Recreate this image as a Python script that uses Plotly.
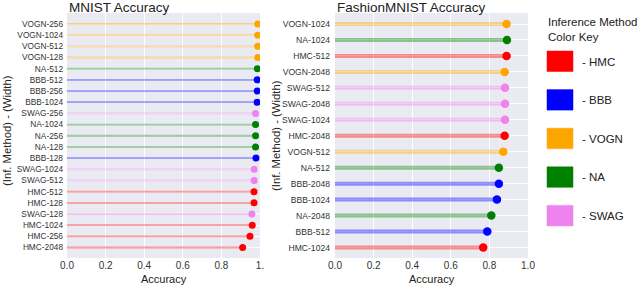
import plotly.graph_objects as go

W, H = 640, 287

# ---------------- data ----------------
mnist_labels = ["VOGN-256", "VOGN-1024", "VOGN-512", "VOGN-128", "NA-512", "BBB-512",
                "BBB-256", "BBB-1024", "SWAG-256", "NA-1024", "NA-256", "NA-128",
                "BBB-128", "SWAG-1024", "SWAG-512", "HMC-512", "HMC-128", "SWAG-128",
                "HMC-1024", "HMC-256", "HMC-2048"]
mnist_acc = [0.988, 0.988, 0.988, 0.988, 0.986, 0.985, 0.985, 0.985, 0.977, 0.977, 0.977,
             0.977, 0.979, 0.970, 0.970, 0.969, 0.969, 0.958, 0.960, 0.948, 0.910]

fashion_labels = ["VOGN-1024", "NA-1024", "HMC-512", "VOGN-2048", "SWAG-512", "SWAG-2048",
                  "SWAG-1024", "HMC-2048", "VOGN-512", "NA-512", "BBB-2048", "BBB-1024",
                  "NA-2048", "BBB-512", "HMC-1024"]
fashion_acc = [0.889, 0.891, 0.889, 0.879, 0.881, 0.881, 0.881, 0.879, 0.872, 0.849,
               0.849, 0.839, 0.810, 0.789, 0.768]

methods = ["HMC", "BBB", "VOGN", "NA", "SWAG"]
method_colors = {"HMC": (255, 0, 0), "BBB": (0, 0, 255), "VOGN": (255, 165, 0),
                 "NA": (0, 128, 0), "SWAG": (238, 130, 238)}
x_ticks = [0.0, 0.2, 0.4, 0.6, 0.8, 1.0]

FONT = "Liberation Sans, Arial, sans-serif"

fig = go.Figure()


def add_lollipops(labels, values, xa, ya, stem_w, stem_alpha, msize):
    for m in methods:
        r, g, b = method_colors[m]
        xs, ys, px, py = [], [], [], []
        for lab, v in zip(labels, values):
            if lab.split("-")[0] == m:
                xs += [0, v, None]
                ys += [lab, lab, None]
                px.append(v)
                py.append(lab)
        if not px:
            continue
        fig.add_trace(go.Scatter(x=xs, y=ys, mode="lines", xaxis=xa, yaxis=ya,
                                 line=dict(color=f"rgba({r},{g},{b},{stem_alpha})",
                                           width=stem_w),
                                 showlegend=False, hoverinfo="skip"))
        fig.add_trace(go.Scatter(x=px, y=py, mode="markers", xaxis=xa, yaxis=ya,
                                 marker=dict(color=f"rgb({r},{g},{b})", size=msize,
                                             line=dict(width=0)),
                                 showlegend=False))


add_lollipops(mnist_labels, mnist_acc, "x", "y", 1.8, 0.38, 7)
add_lollipops(fashion_labels, fashion_acc, "x2", "y2", 4, 0.4, 8.5)

ydom = [1 - 258 / H, 1 - 13 / H]
axis_common = dict(showgrid=True, gridcolor="white", gridwidth=1, zeroline=False,
                   showline=False, ticks="", color="#333", automargin=False)


def cat_range(n, spacing):
    return [n - 1 + 10.5 / spacing, -11 / spacing]


fig.update_layout(
    width=W, height=H, margin=dict(l=0, r=0, t=0, b=0, autoexpand=False),
    paper_bgcolor="white", plot_bgcolor="#EAEAF2",
    font=dict(family=FONT, color="#333"),
    xaxis=dict(domain=[67 / W, 260 / W], range=[0, 1.0], tickvals=x_ticks,
               ticktext=["0.0", "0.2", "0.4", "0.6", "0.8", "1."],
               tickfont=dict(size=10), anchor="y", **axis_common),
    yaxis=dict(domain=ydom, type="category", categoryorder="array",
               categoryarray=mnist_labels, range=cat_range(len(mnist_labels), 11.18),
               tickfont=dict(size=8.3), anchor="x", ticklabelstandoff=3, **axis_common),
    xaxis2=dict(domain=[335 / W, 528 / W], range=[0, 1.0], tickvals=x_ticks,
                ticktext=["0.0", "0.2", "0.4", "0.6", "0.8", "1.0"],
                tickfont=dict(size=10), anchor="y2", **axis_common),
    yaxis2=dict(domain=ydom, type="category", categoryorder="array",
                categoryarray=fashion_labels, range=cat_range(len(fashion_labels), 15.95),
                tickfont=dict(size=8.6), anchor="x2", ticklabelstandoff=4, **axis_common),
)

ann = []
# subplot titles
ann.append(dict(text="MNIST Accuracy", x=67 / W, y=1 - 7 / H, xref="paper", yref="paper",
                xanchor="left", yanchor="middle", showarrow=False,
                font=dict(size=13.5, color="#222")))
ann.append(dict(text="FashionMNIST Accuracy", x=335 / W, y=1 - 7 / H, xref="paper",
                yref="paper", xanchor="left", yanchor="middle", showarrow=False,
                font=dict(size=13.5, color="#222")))
# x axis titles
for cx in [(67 + 260) / 2, (335 + 528) / 2]:
    ann.append(dict(text="Accuracy", x=cx / W, y=1 - 279 / H, xref="paper", yref="paper",
                    xanchor="center", yanchor="middle", showarrow=False,
                    font=dict(size=11, color="#222")))
# y axis titles
for cx, cy in [(7, 131), (276, 136)]:
    ann.append(dict(text="(Inf. Method) - (Width)", x=cx / W, y=1 - cy / H,
                    xref="paper", yref="paper", xanchor="center", yanchor="middle",
                    textangle=-90, showarrow=False, font=dict(size=11.3, color="#222")))
# colour key
ann.append(dict(text="Inference Method<br>Color Key", x=546 / W, y=1 - 29 / H,
                xref="paper", yref="paper", xanchor="left", yanchor="middle", align="left",
                showarrow=False, font=dict(size=11.5, color="#222")))
shapes = []
for i, m in enumerate(methods):
    r, g, b = method_colors[m]
    top = 51 + i * 38.6
    shapes.append(dict(type="rect", xref="paper", yref="paper",
                       x0=547 / W, x1=573 / W, y0=1 - (top + 20.5) / H, y1=1 - top / H,
                       fillcolor=f"rgb({r},{g},{b})",
                       line=dict(color=f"rgba({r},{g},{b},0.5)", width=1)))
    ann.append(dict(text=f"- {m}", x=580 / W, y=1 - (top + 10.5) / H, xref="paper",
                    yref="paper", xanchor="left", yanchor="middle", showarrow=False,
                    font=dict(size=11.5, color="#222")))

fig.update_layout(annotations=ann, shapes=shapes)
fig.write_html("out.html", config={"displayModeBar": False},
               post_script="document.body.style.margin='0';document.body.style.padding='0';"
                           "document.body.style.overflow='hidden';")
